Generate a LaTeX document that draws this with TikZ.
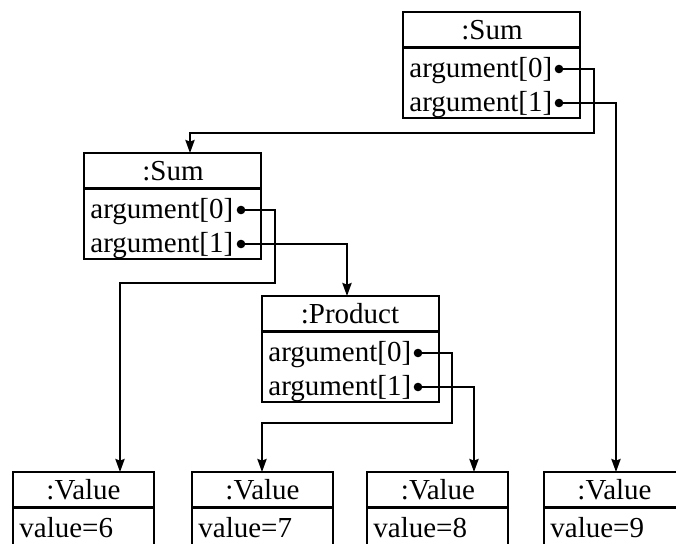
\documentclass[tikz,border=0pt]{standalone}
\usepackage{fontspec}
\setmainfont{Liberation Serif}
\usetikzlibrary{arrows.meta}
\begin{document}
\begin{tikzpicture}[x=0.5pt,y=-0.5pt,
  objbox/.style={draw, line width=1.3pt, inner sep=0pt, outer sep=0pt,
    anchor=north west, minimum height=53pt},
  wide/.style={minimum width=88.5pt},
  narrow/.style={minimum width=70.5pt},
  lbl/.style={inner sep=0pt, font=\fontsize{14.5pt}{17pt}\selectfont},
  dot/.style={circle, fill, inner sep=0pt, minimum size=4.3pt},
  conn/.style={line width=1.05pt, -{Stealth[length=6.5pt,width=4.6pt,inset=0.8pt]}},
  sep/.style={line width=1.3pt}]
\clip (0,0) rectangle (676,543);

% object boxes
\node[objbox, wide]   (s1) at (403,12)  {};
\node[objbox, wide]   (s2) at (84,153)  {};
\node[objbox, wide]   (p)  at (262,296) {};
\node[objbox, narrow] (v6) at (13,472)  {};
\node[objbox, narrow] (v7) at (192,472) {};
\node[objbox, narrow] (v8) at (367,472) {};
\node[objbox, narrow] (v9) at (544,472) {};

% header dividers
\foreach \b in {s1,s2,p,v6,v7,v8,v9}
  \draw[sep] ([yshift=-17.75pt]\b.north west) -- ([yshift=-17.75pt]\b.north east);

% headers
\node[lbl, anchor=base] (s1h) at (492,39)  {:Sum};
\node[lbl, anchor=base] (s2h) at (173,180) {:Sum};
\node[lbl, anchor=base] (ph)  at (350,323) {:Product};
\node[lbl, anchor=base] (v6h) at (83.5,499) {:Value};
\node[lbl, anchor=base] (v7h) at (262.5,499) {:Value};
\node[lbl, anchor=base] (v8h) at (438,499) {:Value};
\node[lbl, anchor=base] (v9h) at (614.5,499) {:Value};

% attribute rows
\node[lbl, anchor=base west] (s1a0) at (409,77)  {argument[0]};
\node[lbl, anchor=base west] (s1a1) at (409,111) {argument[1]};
\node[lbl, anchor=base west] (s2a0) at (90,218)  {argument[0]};
\node[lbl, anchor=base west] (s2a1) at (90,252)  {argument[1]};
\node[lbl, anchor=base west] (pa0)  at (268,361) {argument[0]};
\node[lbl, anchor=base west] (pa1)  at (268,395) {argument[1]};
\node[lbl, anchor=base west] (v6a)  at (19,537)  {value=6};
\node[lbl, anchor=base west] (v7a)  at (198,537) {value=7};
\node[lbl, anchor=base west] (v8a)  at (373,537) {value=8};
\node[lbl, anchor=base west] (v9a)  at (550,537) {value=9};

% reference dots
\node[dot] (s1d0) at (559,69)  {};
\node[dot] (s1d1) at (559,103) {};
\node[dot] (s2d0) at (241,210) {};
\node[dot] (s2d1) at (241,244) {};
\node[dot] (pd0)  at (418,353) {};
\node[dot] (pd1)  at (418,387) {};

% routing points
\coordinate (r1a) at (594,133);
\coordinate (r1b) at (190,133);
\coordinate (r2)  at (616,103);
\coordinate (r3a) at (275,283);
\coordinate (r3b) at (120,283);
\coordinate (r4)  at (347,244);
\coordinate (r5a) at (452,423);
\coordinate (r5b) at (262,423);
\coordinate (r6)  at (474,387);

% references
\draw[conn] (s1d0.center) -| (r1a) -- (r1b) -- (r1b |- s2.north);
\draw[conn] (s1d1.center) -- (r2) -- (r2 |- v9.north);
\draw[conn] (s2d0.center) -| (r3a) -- (r3b) -- (r3b |- v6.north);
\draw[conn] (s2d1.center) -- (r4) -- (r4 |- p.north);
\draw[conn] (pd0.center) -| (r5a) -- (r5b) -- (r5b |- v7.north);
\draw[conn] (pd1.center) -- (r6) -- (r6 |- v8.north);
\end{tikzpicture}
\end{document}
